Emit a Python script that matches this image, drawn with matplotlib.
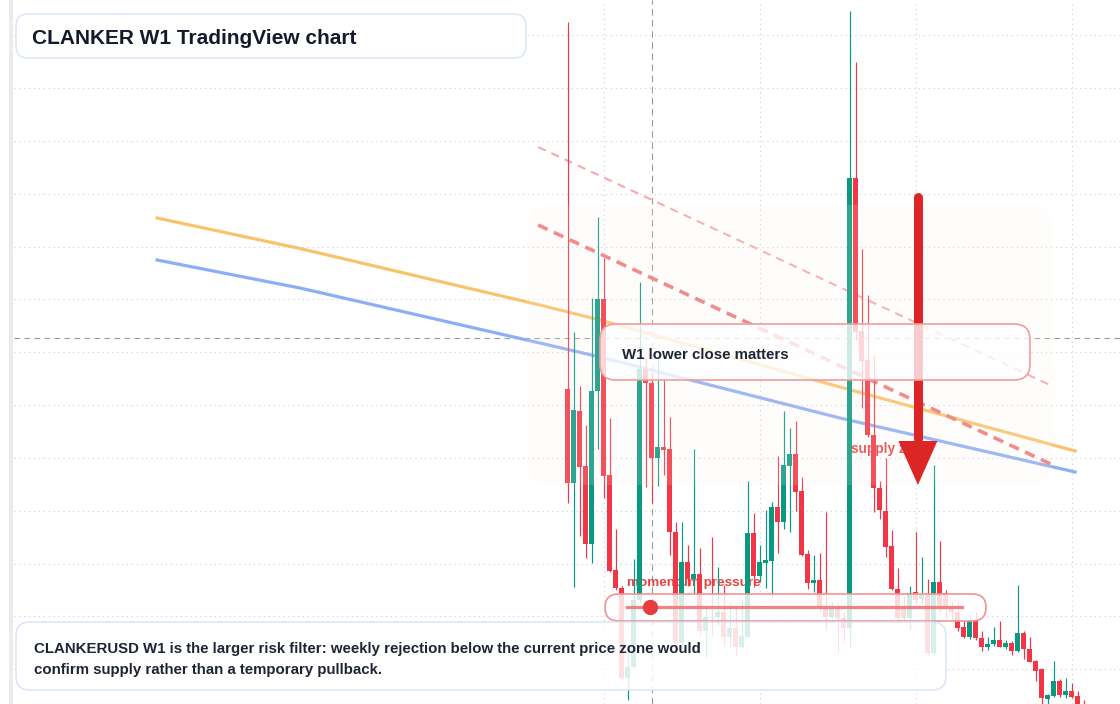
#!/usr/bin/env python3
"""CLANKER W1 weekly candles with trend lines, supply zone and note boxes."""

import numpy as np
import matplotlib

matplotlib.use("Agg")
import matplotlib.pyplot as plt
from matplotlib.lines import Line2D
from matplotlib.patches import FancyBboxPatch, Rectangle
from matplotlib.transforms import IdentityTransform

plt.rcParams["font.family"] = ["Liberation Sans", "DejaVu Sans"]

W, H = 1120, 704

# weekly OHLC, price in 1e-4 USD
opens = [351, 257, 329, 274, 196, 349, 441, 265, 170, 152, 62, 73, 140, 371, 357, 282, 293, 291,
         208, 97, 178, 161, 166, 109, 123, 123, 128, 103, 112, 93, 103, 207, 164, 177, 179, 233,
         218, 274, 286, 249, 186, 157, 160, 133, 123, 132, 122, 112, 562, 409, 380, 305, 252, 229,
         194, 151, 134, 122, 148, 141, 145, 87, 158, 147, 131, 128, 113, 103, 120, 102, 93, 96,
         100, 93, 97, 89, 107, 91, 79, 71, 41, 44, 59, 45, 49, 44, 28]
highs = [718, 408, 354, 315, 442, 523, 482, 322, 211, 154, 90, 181, 458, 382, 368, 380, 361, 323,
         218, 218, 195, 291, 192, 135, 203, 173, 155, 137, 135, 141, 259, 227, 195, 230, 238, 284,
         329, 312, 319, 263, 190, 185, 187, 228, 138, 137, 128, 729, 678, 491, 445, 384, 259, 282,
         210, 172, 144, 154, 208, 183, 161, 275, 199, 150, 138, 138, 120, 123, 128, 109, 103, 113,
         119, 100, 99, 155, 109, 103, 80, 72, 46, 79, 61, 62, 57, 49, 40]
lows = [237, 153, 204, 182, 177, 291, 242, 168, 150, 60, 40, 72, 138, 253, 237, 254, 265, 185,
        90, 92, 154, 146, 104, 83, 105, 115, 94, 93, 85, 92, 103, 153, 158, 152, 143, 187,
        211, 208, 229, 184, 151, 148, 128, 110, 122, 88, 98, 93, 400, 332, 303, 228, 221, 183,
        150, 118, 118, 110, 136, 137, 85, 85, 128, 122, 120, 109, 102, 101, 100, 89, 90, 94,
        93, 91, 85, 88, 81, 78, 59, 36, 35, 43, 43, 42, 42, 25, 15]
closes = [257, 330, 273, 196, 349, 441, 264, 169, 152, 62, 73, 140, 371, 357, 282, 293, 290, 208,
          97, 178, 161, 166, 109, 123, 122, 128, 103, 112, 93, 104, 207, 164, 178, 180, 233, 218,
          275, 286, 248, 185, 157, 160, 133, 123, 132, 122, 112, 562, 408, 379, 305, 252, 230, 193,
          151, 122, 122, 147, 140, 146, 87, 158, 131, 131, 128, 112, 103, 119, 102, 93, 96, 100,
          93, 97, 89, 107, 91, 78, 69, 42, 45, 59, 45, 49, 43, 28, 20]

# indicator lines (bar index, price)
ma_slow_idx = [-68.4, -44.6, -4.6, 5.4, 45.4, 84.6]
ma_slow_val = [522, 491.5, 435, 420, 353, 289]
ma_fast_idx = [-68.4, -44.6, -4.6, 5.4, 45.4, 84.6]
ma_fast_val = [480, 452, 397, 383, 322, 268]

# descending channel (bar index, price)
channel_low_idx = [-4.9, 80.9]
channel_low_val = [515, 275]
channel_high_idx = [-4.9, 80.8]
channel_high_val = [593, 354]

grid_levels = [71, 124, 176, 229, 282, 335, 388, 441, 493, 546, 599, 652, 705]
grid_bars = [6, 32, 58, 84]

cross_bar = 14
cross_price = 402

supply_bar = 58.4
supply_top, supply_base, supply_tip = 543.5, 299, 255
momentum_level = 133
momentum_span = [9.9, 65.75]
momentum_dot = 13.75

GREEN = "#089981"
RED = "#f23645"
INK = "#131a2a"


def px_box(fig, x0, y0, x1, y1, r, fc, ec, lw, z=2):
    """Rounded box given in top-left pixel coordinates."""
    box = FancyBboxPatch(
        (x0, H - y1), x1 - x0, y1 - y0,
        boxstyle=f"round,pad=0,rounding_size={r}",
        transform=IdentityTransform(), facecolor=fc, edgecolor=ec,
        linewidth=lw, zorder=z,
    )
    fig.add_artist(box)


def px_text(fig, x, y, s, size, color=INK, z=6):
    fig.text(x, H - y, s, transform=IdentityTransform(), fontsize=size,
             fontweight="bold", color=color, ha="left", va="baseline", zorder=z)


def main():
    fig = plt.figure(figsize=(W / 100, H / 100), dpi=100)
    fig.patch.set_facecolor("white")
    ax = fig.add_axes([14 / W, 0, 1 - 14 / W, 1])

    o = np.array(opens, float)
    h = np.array(highs, float)
    l = np.array(lows, float)
    c = np.array(closes, float)
    idx = np.arange(len(o))
    colors = np.where(c >= o, GREEN, RED)

    ax.set_xticks(grid_bars)
    ax.set_yticks(grid_levels)
    ax.grid(True, color="#cdcdcd", linewidth=0.8, linestyle=(0, (1, 3.4)), zorder=0.5)
    ax.tick_params(length=0, labelbottom=False, labelleft=False)
    for s in ax.spines.values():
        s.set_visible(False)
    ax.set_axisbelow(True)

    ax.axhline(cross_price, color="#9b9b9b", lw=0.8, ls=(0, (5, 4)), zorder=1)
    ax.axvline(cross_bar, color="#9b9b9b", lw=0.8, ls=(0, (6, 4)), zorder=1)

    ax.plot(ma_slow_idx, ma_slow_val, color="#f9c36c", lw=2.3, zorder=2)
    ax.plot(ma_fast_idx, ma_fast_val, color="#8daef5", lw=2.3, zorder=2)
    ax.plot(channel_high_idx, channel_high_val, color="#f4aaaa", lw=1.5,
            ls=(0, (4, 3)), zorder=2)
    ax.plot(channel_low_idx, channel_low_val, color="#ee7b7b", lw=2.6,
            ls=(0, (2.9, 1.9)), zorder=2)

    ax.text(9.9, 154, "momentum pressure", color="#e14545", fontsize=9.7,
            fontweight="bold", va="baseline", zorder=2.5)
    ax.text(47.25, 287, "supply zone", color="#e14545", fontsize=9.8,
            fontweight="bold", va="baseline", zorder=2.5)

    ax.vlines(idx, l, h, colors=colors, lw=0.85, zorder=3)
    ax.bar(idx, np.maximum(np.abs(c - o), 1.2), bottom=np.minimum(o, c), width=0.8,
           color=colors, linewidth=0, zorder=3.1)

    zone = FancyBboxPatch((527, H - 485), 1053 - 527, 485 - 205,
                          boxstyle="round,pad=0,rounding_size=24",
                          transform=IdentityTransform(), facecolor="#fff3e8",
                          edgecolor="none", alpha=0.15, zorder=4)
    ax.add_patch(zone)

    ax.plot([supply_bar, supply_bar], [supply_top, supply_base + 2], color="#dc2626",
            lw=6.5, solid_capstyle="round", zorder=5)
    ax.fill([supply_bar - 3.25, supply_bar + 3.25, supply_bar],
            [supply_base, supply_base, supply_tip], color="#dc2626", lw=0, zorder=5)

    ax.set_xlim((14 - 567.5) / 6, (W - 567.5) / 6)
    ax.set_ylim(36, 740)

    # left price strip
    fig.add_artist(Rectangle((9, 0), 4, H, transform=IdentityTransform(),
                             facecolor="#ebebeb", edgecolor="none", zorder=1))

    # note boxes on top of the chart
    px_box(fig, 16, 14, 526, 58, 12, "white", "#d6e4f6", 1.0)
    px_box(fig, 600, 324, 1030, 380, 16, (1, 1, 1, 0.77), "#f19c9c", 1.2)
    px_box(fig, 605, 594, 986, 621, 13.5, (1, 1, 1, 0.82), "#f19292", 1.2)
    px_box(fig, 16, 622, 946, 690, 14, (1, 1, 1, 0.85), "#d6e4f6", 1.0)

    fig.add_artist(Line2D(momentum_span, [momentum_level] * 2, transform=ax.transData,
                          color="#ee6f6f", alpha=0.85, lw=2.3, zorder=3))
    fig.add_artist(Line2D([momentum_dot], [momentum_level], transform=ax.transData,
                          marker="o", markersize=10, color="#e53e3e", lw=0, zorder=3.5))

    px_text(fig, 32, 43.5, "CLANKER W1 TradingView chart", 15)
    px_text(fig, 622, 359, "W1 lower close matters", 10.8, "#1d2433")
    px_text(fig, 34, 653.5, "CLANKERUSD W1 is the larger risk filter: weekly rejection "
            "below the current price zone would", 10.8, "#1d2433")
    px_text(fig, 34, 674, "confirm supply rather than a temporary pullback.", 10.8, "#1d2433")

    fig.savefig("out.png", dpi=100)
    return 0


if __name__ == "__main__":
    raise SystemExit(main())
